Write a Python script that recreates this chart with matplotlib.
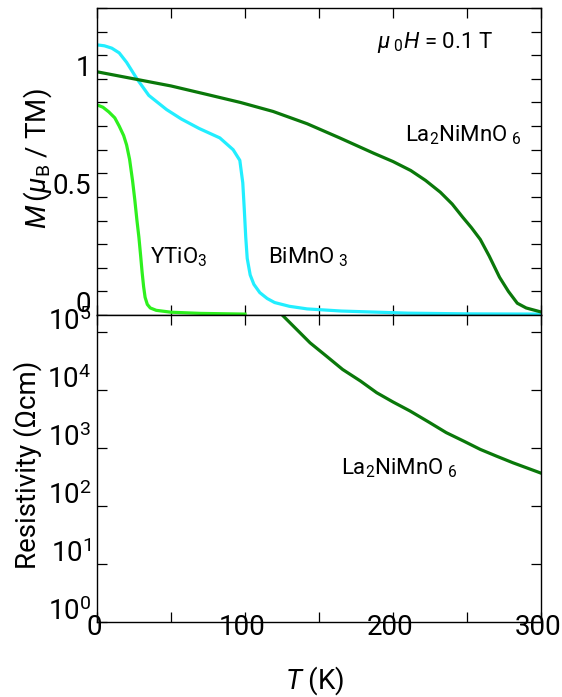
import numpy as np
import matplotlib
matplotlib.use("Agg")
from matplotlib import pyplot as plt
from matplotlib.ticker import MultipleLocator, FixedLocator, NullLocator, FixedFormatter
from matplotlib.transforms import ScaledTranslation

plt.rcParams['font.family'] = ['Roboto', 'DejaVu Sans']
plt.rcParams['font.weight'] = 'normal'
plt.rcParams['mathtext.fontset'] = 'custom'
plt.rcParams['mathtext.rm'] = 'Roboto'
plt.rcParams['mathtext.it'] = 'Roboto:italic'
plt.rcParams['mathtext.default'] = 'regular'

# magnetisation, M (muB / TM) vs T (K)
t_lnmo = [0, 25, 50, 75, 97, 119, 142, 164, 187, 200, 212, 222, 232, 240, 247, 253, 259, 265,
          272, 278, 284, 290, 300]
m_lnmo = [1.03, 1.0, 0.97, 0.933, 0.90, 0.862, 0.81, 0.75, 0.685, 0.65, 0.612, 0.57, 0.52, 0.47,
          0.415, 0.37, 0.32, 0.25, 0.16, 0.10, 0.05, 0.03, 0.013]

t_bmo = [0, 5, 10, 15, 20, 27, 35, 47, 57, 69, 83, 92, 96.5, 98.5, 99.5, 100.5, 101.5, 103.5,
         106, 110, 115, 120, 130, 142, 165, 210, 250, 300]
m_bmo = [1.144, 1.14, 1.13, 1.11, 1.07, 1.0, 0.93, 0.87, 0.83, 0.79, 0.75, 0.70, 0.655, 0.56,
         0.45, 0.33, 0.24, 0.17, 0.13, 0.095, 0.07, 0.053, 0.037, 0.026, 0.017, 0.008, 0.005, 0.004]

t_yto = [0, 4, 8, 12, 15, 18, 20, 22, 24, 25.5, 27, 28.3, 29.5, 30.5, 31.5, 32.5, 34, 36, 40,
         50, 70, 100]
m_yto = [0.89, 0.88, 0.86, 0.835, 0.80, 0.76, 0.72, 0.66, 0.57, 0.49, 0.40, 0.33, 0.25, 0.18,
         0.12, 0.075, 0.045, 0.03, 0.02, 0.012, 0.007, 0.004]

# resistivity of La2NiMnO6 (Ohm cm)
t_rho = [124, 144, 155, 166, 178, 189, 200, 211.5, 224, 236, 248, 259, 270, 281, 300]
rho = [2.14e5, 6.6e4, 3.9e4, 2.29e4, 1.45e4, 9.1e3, 6.3e3, 4.4e3, 2.85e3, 1.86e3, 1.32e3,
       955, 730, 562, 372]

m_ticks = [0, 0.5, 1]
m_labels = ['0', '0.5', '1']
rho_ticks = [1, 10, 100, 1e3, 1e4, 1e5]
rho_labels = [r'$\mathregular{10^{%d}}$' % k for k in range(6)]
t_ticks = [0, 100, 200, 300]

fig = plt.figure(figsize=(5.62, 6.97), dpi=100)
ax1 = fig.add_axes([0.1726, 0.548, 0.790, 0.4405])
ax2 = fig.add_axes([0.1726, 0.1076, 0.790, 0.4404], sharex=ax1)

ax1.plot(t_yto, m_yto, color='#2ef01e', lw=2.3)
ax1.plot(t_bmo, m_bmo, color='#22eeff', lw=2.3)
ax1.plot(t_lnmo, m_lnmo, color='#0a780a', lw=2.3)
ax2.plot(t_rho, rho, color='#0a780a', lw=2.3)

ax1.set_xlim(0, 300)
ax1.set_ylim(0, 1.3)
ax2.set_yscale('log')
ax2.set_ylim(1, 10**5.3)

ax1.yaxis.set_major_locator(FixedLocator(m_ticks))
ax1.yaxis.set_major_formatter(FixedFormatter(m_labels))
ax1.yaxis.set_minor_locator(MultipleLocator(0.1))
ax2.yaxis.set_major_locator(FixedLocator(rho_ticks))
ax2.yaxis.set_major_formatter(FixedFormatter(rho_labels))
ax2.yaxis.set_minor_locator(NullLocator())
ax2.xaxis.set_major_locator(FixedLocator(t_ticks))
ax2.xaxis.set_minor_locator(MultipleLocator(50))

for ax in (ax1, ax2):
    ax.tick_params(which='both', direction='in', top=True, right=True, length=7,
                   width=0.9, labelsize=20, pad=4)
    for s in ax.spines.values():
        s.set_linewidth(1.0)
ax1.tick_params(axis='x', labelbottom=False)

# tick labels sit a little above their ticks in the original
shift_y = ScaledTranslation(0, 0.135, fig.dpi_scale_trans)
shift_x = ScaledTranslation(-0.03, 0.14, fig.dpi_scale_trans)
for lab in ax1.get_yticklabels() + ax2.get_yticklabels():
    lab.set_transform(lab.get_transform() + shift_y)
for lab in ax2.get_xticklabels():
    lab.set_transform(lab.get_transform() + shift_x)

ax1.text(189, 1.13, r'$\mathit{\mu}_{\ 0}\mathit{H}$ = 0.1 T', fontsize=16)
ax1.text(208, 0.735, r'La$_2$NiMnO$_{\ 6}$', fontsize=16)
ax1.text(36, 0.22, r'YTiO$_3$', fontsize=16)
ax1.text(115.5, 0.22, r'BiMnO$_{\ 3}$', fontsize=16)
ax2.text(165, 350, r'La$_2$NiMnO$_{\ 6}$', fontsize=16)

fig.text(0.0676, 0.773, r'$\mathit{M}\,(\mathit{\mu}_{B}$ / TM)', rotation=90,
         ha='center', va='center', fontsize=20)
fig.text(0.050, 0.333, 'Resistivity (Ωcm)', rotation=90, ha='center', va='center', fontsize=20)
fig.text(0.56, 0.024, r'$\mathit{T}$ (K)', ha='center', va='center', fontsize=20)

fig.savefig('out.png', dpi=100)
